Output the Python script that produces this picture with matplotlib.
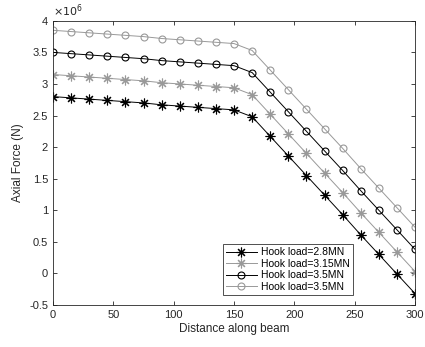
import numpy as np
import matplotlib
matplotlib.use('Agg')
import matplotlib.pyplot as plt
from matplotlib.ticker import FuncFormatter

plt.rcParams['font.family'] = ['Liberation Sans', 'DejaVu Sans']

# distance along beam
dist = [0, 15, 30, 45, 60, 75, 90, 105, 120, 135, 150,
        165, 180, 195, 210, 225, 240, 255, 270, 285, 300]

# axial force (x1e6 N)
f_28 = [2.80, 2.78, 2.76, 2.74, 2.72, 2.70, 2.67, 2.65, 2.63, 2.61, 2.59,
        2.48, 2.17, 1.86, 1.55, 1.24, 0.93, 0.61, 0.30, -0.01, -0.32]
f_315 = [3.15, 3.13, 3.11, 3.09, 3.07, 3.05, 3.02, 3.00, 2.98, 2.96, 2.94,
         2.83, 2.52, 2.21, 1.90, 1.59, 1.28, 0.96, 0.65, 0.34, 0.03]
f_35 = [3.50, 3.48, 3.46, 3.44, 3.42, 3.40, 3.37, 3.35, 3.33, 3.31, 3.29,
        3.18, 2.87, 2.56, 2.25, 1.94, 1.63, 1.31, 1.00, 0.69, 0.38]
f_385 = [3.85, 3.83, 3.81, 3.79, 3.77, 3.75, 3.72, 3.70, 3.68, 3.66, 3.64,
         3.53, 3.22, 2.91, 2.60, 2.29, 1.98, 1.66, 1.35, 1.04, 0.73]

labels = ['Hook load=2.8MN', 'Hook load=3.15MN', 'Hook load=3.5MN', 'Hook load=3.5MN']

gray = '#999999'
txt = '#262626'
star = (8, 2, 0)  # matlab-like asterisk

fig = plt.figure(figsize=(4.25, 3.47), dpi=100, facecolor='white')
ax = fig.add_axes([0.1247, 0.121, 0.852, 0.819])

scale = 1e6
ax.plot(dist, np.array(f_28) * scale, color='black', lw=0.7, marker=star, ms=7,
        mew=0.8, label=labels[0])
ax.plot(dist, np.array(f_315) * scale, color=gray, lw=0.7, marker=star, ms=7,
        mew=0.8, label=labels[1])
ax.plot(dist, np.array(f_35) * scale, color='black', lw=0.7, marker='o', ms=5,
        mfc='none', mew=0.8, label=labels[2])
ax.plot(dist, np.array(f_385) * scale, color=gray, lw=0.7, marker='o', ms=5,
        mfc='none', mew=0.8, label=labels[3])

ax.set_xlim(0, 300)
ax.set_ylim(-0.5e6, 4e6)
ax.set_xticks(np.arange(0, 301, 50))
ax.set_yticks(np.arange(-0.5e6, 4.01e6, 0.5e6))
ax.yaxis.set_major_formatter(FuncFormatter(lambda v, p: '%g' % round(v / scale, 2)))
ax.text(0.0, 1.005, r'$\times10^6$', transform=ax.transAxes, fontsize=8,
        color=txt, ha='left', va='bottom')

ax.tick_params(direction='in', top=True, right=True, labelsize=8,
               colors=txt, length=3, width=0.6)
for s in ax.spines.values():
    s.set_linewidth(0.6)
    s.set_color(txt)

ax.set_xlabel('Distance along beam', fontsize=8.5, color=txt, labelpad=2)
ax.set_ylabel('Axial Force (N)', fontsize=8.5, color=txt, labelpad=4)

leg = ax.legend(loc='lower right', bbox_to_anchor=(0.829, 0.035), fontsize=7.5,
                frameon=True, fancybox=False, edgecolor='black', handlelength=3,
                borderpad=0.3, labelspacing=0.15, handletextpad=0.4, borderaxespad=0)
leg.get_frame().set_linewidth(0.6)

fig.savefig('out.png', dpi=100, facecolor='white')
